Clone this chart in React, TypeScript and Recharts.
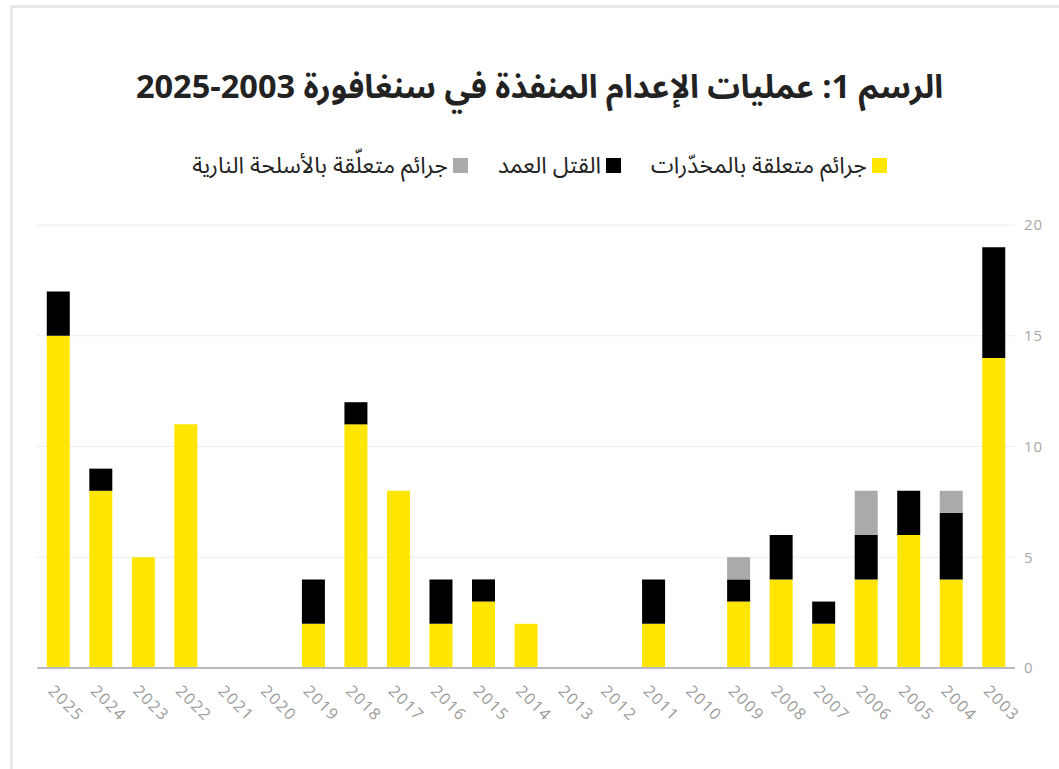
import { Bar, BarChart, CartesianGrid, XAxis, YAxis } from 'recharts';

const years = [
  '2025', '2024', '2023', '2022', '2021', '2020', '2019', '2018', '2017', '2016', '2015', '2014',
  '2013', '2012', '2011', '2010', '2009', '2008', '2007', '2006', '2005', '2004', '2003'
];
const drugs = [15, 8, 5, 11, 0, 0, 2, 11, 8, 2, 3, 2, 0, 0, 2, 0, 3, 4, 2, 4, 6, 4, 14];
const murder = [2, 1, 0, 0, 0, 0, 2, 1, 0, 2, 1, 0, 0, 0, 2, 0, 1, 2, 1, 2, 2, 3, 5];
const firearms = [0, 0, 0, 0, 0, 0, 0, 0, 0, 0, 0, 0, 0, 0, 0, 0, 1, 0, 0, 2, 0, 1, 0];
const yTicks = [0, 5, 10, 15, 20];

const seriesNames = {
  drugs: 'جرائم متعلقة بالمخدّرات',
  murder: 'القتل العمد',
  firearms: 'جرائم متعلّقة بالأسلحة النارية'
};
const colors = { drugs: '#FFE600', murder: '#000000', firearms: '#AAAAAA' };

const data = years.map((year, i) => ({
  year,
  drugs: drugs[i],
  murder: murder[i],
  firearms: firearms[i]
}));

const arabicFont = '"Noto Sans Arabic", "DejaVu Sans", sans-serif';

function YearTick({ x, y, payload }: any) {
  return (
    <text
      transform={`translate(${x - 11}, ${y + 16}) rotate(45)`}
      textAnchor="start"
      fontSize={16}
      letterSpacing={1.5}
      fill="#9a9a9a"
      fontFamily="'Open Sans', sans-serif"
    >
      {payload.value}
    </text>
  );
}

function LegendBlock() {
  const keys: (keyof typeof seriesNames)[] = ['drugs', 'murder', 'firearms'];
  return (
    <div
      style={{
        position: 'absolute',
        left: 0,
        top: 141,
        width: 1079,
        direction: 'rtl',
        display: 'flex',
        justifyContent: 'center',
        gap: 30,
        fontFamily: arabicFont,
        fontSize: 23,
        color: '#222'
      }}
    >
      {keys.map((k) => (
        <span key={k} style={{ display: 'flex', alignItems: 'center', gap: 5 }}>
          <span style={{ width: 15, height: 15, background: colors[k], display: 'inline-block' }} />
          {seriesNames[k]}
        </span>
      ))}
    </div>
  );
}

export default function App() {
  return (
    <div style={{ position: 'absolute', left: 0, top: 0, width: 1059, height: 769, background: '#fff', overflow: 'hidden' }}>
      <div
        style={{
          position: 'absolute',
          left: 10,
          top: 5,
          width: 1060,
          height: 790,
          border: '3px solid #e8e8e8',
          boxSizing: 'border-box'
        }}
      />
      <div
        style={{
          position: 'absolute',
          left: 0,
          top: 53,
          width: 1079,
          textAlign: 'center',
          direction: 'rtl',
          fontFamily: arabicFont,
          fontWeight: 'bold',
          fontSize: 32.5,
          color: '#222'
        }}
      >
        الرسم 1: عمليات الإعدام المنفذة في سنغافورة 2003-2025
      </div>
      <LegendBlock />
      <div style={{ position: 'absolute', left: 0, top: 0 }}>
        <BarChart
          width={1059}
          height={769}
          data={data}
          margin={{ top: 225, right: 0, bottom: 0, left: 37 }}
          barCategoryGap="23%"
        >
          <CartesianGrid vertical={false} stroke="#ececec" />
          <XAxis
            dataKey="year"
            interval={0}
            height={101}
            tickLine={false}
            axisLine={{ stroke: '#b9b9c3', strokeWidth: 2 }}
            tick={<YearTick />}
          />
          <YAxis
            orientation="right"
            domain={[0, 20]}
            ticks={yTicks}
            width={44}
            axisLine={false}
            tickLine={false}
            tickMargin={3}
            tick={{ fontSize: 15, fill: '#a6a6a6', fontFamily: "'Open Sans', sans-serif", textAnchor: 'start', letterSpacing: 1 }}
          />
          <Bar dataKey="drugs" stackId="a" fill={colors.drugs} isAnimationActive={false} />
          <Bar dataKey="murder" stackId="a" fill={colors.murder} isAnimationActive={false} />
          <Bar dataKey="firearms" stackId="a" fill={colors.firearms} isAnimationActive={false} />
        </BarChart>
      </div>
    </div>
  );
}
